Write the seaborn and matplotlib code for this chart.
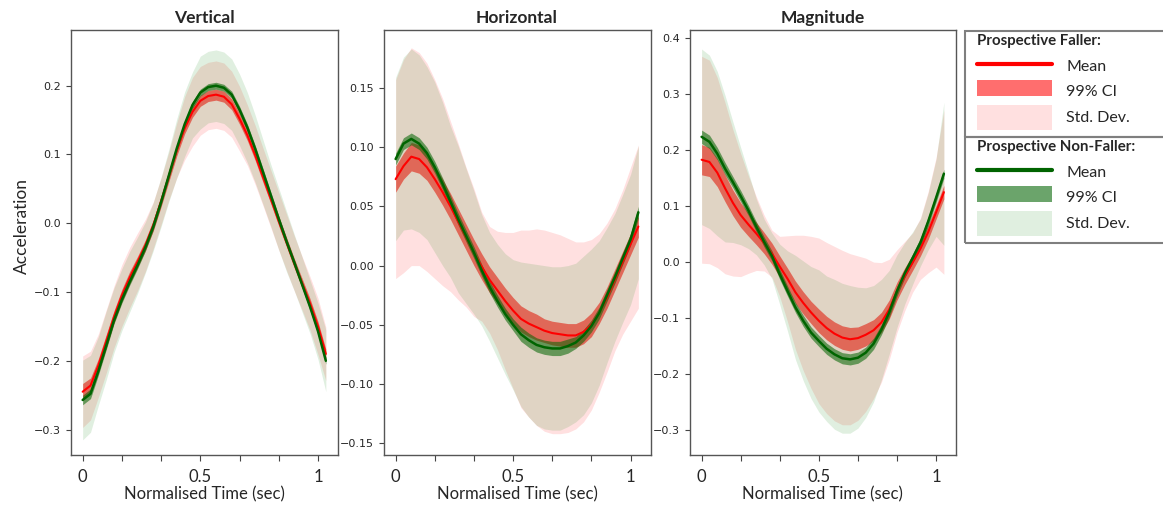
"""Mean / 99% CI / SD bands of trunk acceleration for prospective fallers vs non-fallers."""

import matplotlib

matplotlib.use("Agg")
import matplotlib.pyplot as plt  # noqa: E402
import numpy as np  # noqa: E402
import seaborn as sns  # noqa: E402
from matplotlib.legend_handler import HandlerPatch  # noqa: E402
from matplotlib.lines import Line2D  # noqa: E402
from matplotlib.patches import Patch, Rectangle  # noqa: E402

sns.set_theme(style="ticks")
plt.rcParams["font.family"] = ["DejaVu Sans"]

# 32 samples over one normalised stride, sample step = 1/30
SAMPLE_STEP = 30

# ---- Vertical ----
vert_faller_mean = [-0.245, -0.236, -0.207, -0.172, -0.136, -0.105, -0.079, -0.056, -0.032, -0.003,
                    0.032, 0.069, 0.106, 0.138, 0.162, 0.178, 0.185, 0.187, 0.184, 0.173,
                    0.152, 0.128, 0.099, 0.067, 0.035, 0.003, -0.028, -0.059, -0.088, -0.117,
                    -0.150, -0.190]
vert_faller_ci = [0.012, 0.011, 0.010, 0.010, 0.009, 0.009, 0.009, 0.008, 0.008, 0.008,
                  0.008, 0.008, 0.008, 0.008, 0.008, 0.008, 0.008, 0.008, 0.008, 0.008,
                  0.008, 0.008, 0.008, 0.008, 0.007, 0.007, 0.007, 0.007, 0.007, 0.007,
                  0.007, 0.007]
vert_faller_sd = [0.052, 0.050, 0.046, 0.046, 0.045, 0.045, 0.044, 0.042, 0.038, 0.034,
                  0.034, 0.035, 0.040, 0.046, 0.050, 0.050, 0.049, 0.049, 0.049, 0.048,
                  0.047, 0.044, 0.043, 0.042, 0.042, 0.042, 0.041, 0.040, 0.039, 0.039,
                  0.041, 0.039]
vert_nonfaller_mean = [-0.257, -0.248, -0.215, -0.178, -0.141, -0.111, -0.085, -0.061, -0.035, -0.005,
                       0.031, 0.070, 0.109, 0.144, 0.172, 0.190, 0.198, 0.200, 0.197, 0.187,
                       0.165, 0.139, 0.108, 0.074, 0.040, 0.006, -0.027, -0.058, -0.090, -0.122,
                       -0.157, -0.200]
vert_nonfaller_ci = [0.007, 0.007, 0.006, 0.006, 0.005, 0.005, 0.005, 0.005, 0.005, 0.005,
                     0.005, 0.005, 0.005, 0.005, 0.005, 0.005, 0.005, 0.005, 0.005, 0.005,
                     0.005, 0.005, 0.005, 0.005, 0.005, 0.005, 0.005, 0.005, 0.005, 0.005,
                     0.005, 0.005]
vert_nonfaller_sd = [0.058, 0.056, 0.050, 0.050, 0.047, 0.045, 0.044, 0.041, 0.037, 0.035,
                     0.036, 0.038, 0.043, 0.047, 0.048, 0.053, 0.052, 0.052, 0.052, 0.052,
                     0.052, 0.051, 0.049, 0.047, 0.045, 0.045, 0.044, 0.041, 0.040, 0.039,
                     0.041, 0.045]

# ---- Horizontal ----
horiz_faller_mean = [0.073, 0.084, 0.092, 0.090, 0.083, 0.073, 0.062, 0.050, 0.037, 0.024,
                     0.011, -0.001, -0.012, -0.021, -0.030, -0.038, -0.045, -0.049, -0.052, -0.055,
                     -0.057, -0.058, -0.059, -0.059, -0.056, -0.050, -0.040, -0.027, -0.012, 0.003,
                     0.018, 0.033]
horiz_faller_ci = [0.011, 0.011, 0.012, 0.012, 0.011, 0.011, 0.011, 0.011, 0.011, 0.011,
                   0.011, 0.011, 0.011, 0.011, 0.011, 0.011, 0.011, 0.011, 0.011, 0.010,
                   0.010, 0.010, 0.010, 0.010, 0.010, 0.010, 0.009, 0.009, 0.009, 0.009,
                   0.009, 0.009]
horiz_faller_sd = [0.084, 0.090, 0.092, 0.090, 0.088, 0.084, 0.079, 0.072, 0.066, 0.059,
                   0.054, 0.046, 0.045, 0.050, 0.058, 0.066, 0.075, 0.079, 0.083, 0.085,
                   0.085, 0.084, 0.082, 0.079, 0.076, 0.072, 0.067, 0.063, 0.060, 0.061,
                   0.065, 0.069]
horiz_nonfaller_mean = [0.090, 0.103, 0.107, 0.103, 0.095, 0.083, 0.069, 0.054, 0.039, 0.025,
                        0.011, -0.004, -0.018, -0.030, -0.041, -0.050, -0.058, -0.063, -0.067, -0.069,
                        -0.070, -0.070, -0.068, -0.065, -0.059, -0.051, -0.040, -0.025, -0.010, 0.006,
                        0.022, 0.045]
horiz_nonfaller_ci = [0.005, 0.005, 0.005, 0.005, 0.005, 0.005, 0.005, 0.005, 0.005, 0.005,
                      0.005, 0.005, 0.005, 0.005, 0.005, 0.005, 0.006, 0.006, 0.006, 0.006,
                      0.006, 0.006, 0.006, 0.005, 0.005, 0.005, 0.005, 0.005, 0.005, 0.005,
                      0.005, 0.005]
horiz_nonfaller_sd = [0.069, 0.073, 0.076, 0.075, 0.073, 0.072, 0.069, 0.064, 0.062, 0.057,
                      0.052, 0.047, 0.046, 0.048, 0.051, 0.055, 0.061, 0.065, 0.068, 0.069,
                      0.069, 0.069, 0.068, 0.067, 0.067, 0.065, 0.061, 0.057, 0.054, 0.054,
                      0.055, 0.056]

# ---- Magnitude ----
mag_faller_mean = [0.183, 0.179, 0.160, 0.132, 0.106, 0.084, 0.067, 0.051, 0.034, 0.015,
                   -0.008, -0.030, -0.054, -0.073, -0.090, -0.105, -0.118, -0.128, -0.135, -0.138,
                   -0.136, -0.130, -0.122, -0.108, -0.085, -0.052, -0.025, -0.001, 0.024, 0.054,
                   0.089, 0.125]
mag_faller_ci = [0.027, 0.026, 0.025, 0.024, 0.023, 0.022, 0.021, 0.020, 0.019, 0.019,
                 0.019, 0.019, 0.020, 0.020, 0.020, 0.021, 0.021, 0.021, 0.021, 0.021,
                 0.020, 0.020, 0.019, 0.018, 0.017, 0.016, 0.015, 0.014, 0.013, 0.013,
                 0.012, 0.012]
mag_faller_sd = [0.185, 0.182, 0.170, 0.153, 0.131, 0.110, 0.087, 0.066, 0.050, 0.042,
                 0.054, 0.077, 0.102, 0.121, 0.136, 0.148, 0.153, 0.156, 0.156, 0.153,
                 0.147, 0.137, 0.122, 0.107, 0.090, 0.074, 0.062, 0.053, 0.055, 0.073,
                 0.098, 0.147]
mag_nonfaller_mean = [0.224, 0.215, 0.194, 0.167, 0.143, 0.118, 0.092, 0.063, 0.036, 0.011,
                      -0.022, -0.052, -0.081, -0.105, -0.126, -0.141, -0.155, -0.165, -0.172, -0.174,
                      -0.171, -0.162, -0.146, -0.121, -0.090, -0.052, -0.020, 0.007, 0.035, 0.073,
                      0.115, 0.158]
mag_nonfaller_ci = [0.012, 0.012, 0.011, 0.011, 0.010, 0.010, 0.009, 0.009, 0.009, 0.009,
                    0.009, 0.009, 0.009, 0.010, 0.010, 0.010, 0.010, 0.010, 0.010, 0.010,
                    0.010, 0.010, 0.010, 0.009, 0.009, 0.009, 0.008, 0.008, 0.008, 0.008,
                    0.008, 0.008]
mag_nonfaller_sd = [0.157, 0.155, 0.147, 0.131, 0.108, 0.087, 0.068, 0.050, 0.041, 0.041,
                    0.054, 0.072, 0.093, 0.107, 0.118, 0.127, 0.130, 0.134, 0.134, 0.132,
                    0.126, 0.116, 0.104, 0.090, 0.075, 0.065, 0.055, 0.047, 0.042, 0.051,
                    0.069, 0.128]

panel_titles = ["Vertical", "Horizontal", "Magnitude"]
panel_ylims = [(-0.337, 0.281), (-0.160, 0.199), (-0.345, 0.415)]
xtick_labels = ["0", "", "", "0.5", "", "", "1"]

RED = "#ff0000"
GREEN = "#006400"
GREEN_SD = "#008000"
LABEL_FONT = "Lato"

panels = [
    (vert_faller_mean, vert_faller_ci, vert_faller_sd,
     vert_nonfaller_mean, vert_nonfaller_ci, vert_nonfaller_sd),
    (horiz_faller_mean, horiz_faller_ci, horiz_faller_sd,
     horiz_nonfaller_mean, horiz_nonfaller_ci, horiz_nonfaller_sd),
    (mag_faller_mean, mag_faller_ci, mag_faller_sd,
     mag_nonfaller_mean, mag_nonfaller_ci, mag_nonfaller_sd),
]


def draw_group(ax, mean, ci, sd, line_color, sd_color, ci_alpha, lw):
    mean, ci, sd = np.asarray(mean), np.asarray(ci), np.asarray(sd)
    t = np.arange(len(mean)) / SAMPLE_STEP
    ax.fill_between(t, mean - sd, mean + sd, color=sd_color, alpha=0.12, lw=0)
    ax.fill_between(t, mean - ci, mean + ci, color=line_color, alpha=ci_alpha, lw=0)
    sns.lineplot(x=t, y=mean, color=line_color, lw=lw, ax=ax)


def draw_panel(ax, title, ylim, f_mean, f_ci, f_sd, n_mean, n_ci, n_sd):
    draw_group(ax, f_mean, f_ci, f_sd, RED, RED, 0.55, 1.5)
    draw_group(ax, n_mean, n_ci, n_sd, GREEN, GREEN_SD, 0.55, 1.8)

    ax.set_ylim(*ylim)
    ax.set_title(title, fontsize=12.5, fontweight="bold", family=LABEL_FONT, pad=5)
    ax.set_xticks(np.arange(7) / 6)
    ax.set_xticklabels(xtick_labels, fontsize=12, family=LABEL_FONT)
    ax.set_xlabel("Normalised Time (sec)", fontsize=12, family=LABEL_FONT, labelpad=1)
    ax.tick_params(axis="y", labelsize=8, length=3.5, width=0.8, color="#444444")
    ax.tick_params(axis="x", length=4, width=0.8, color="#444444", pad=6)
    for spine in ax.spines.values():
        spine.set_visible(True)
        spine.set_color("#555555")
        spine.set_linewidth(1.0)


fig = plt.figure(figsize=(11.63, 5.07), dpi=100)
W, H = 1163, 507
axes_px = [(70.5, 338), (383.5, 650.5), (689.5, 956)]
axes = []
for (x0, x1) in axes_px:
    axes.append(fig.add_axes([x0 / W, 1 - 455 / H, (x1 - x0) / W, 425 / H]))

for ax, title, ylim, data in zip(axes, panel_titles, panel_ylims, panels):
    draw_panel(ax, title, ylim, *data)

axes[0].set_ylabel("Acceleration", fontsize=12.5, family=LABEL_FONT)
axes[0].yaxis.set_label_coords(-0.151, 0.539)


# ---- legend: two stacked boxes ----
def ci_box(legend, orig_handle, xdescent, ydescent, width, height, fontsize):
    return Rectangle((-xdescent, -ydescent + 0.2 * height), width, height)


def sd_box(legend, orig_handle, xdescent, ydescent, width, height, fontsize):
    return Rectangle((-xdescent, -ydescent - 0.35 * height), width, 1.6 * height)


def add_group_legend(title, line_color, ci_rgba, sd_rgba, top_px):
    handles = [Line2D([], [], color=line_color, lw=3),
               Patch(facecolor=ci_rgba, lw=0),
               Patch(facecolor=sd_rgba, lw=0)]
    labels = ["Mean", "99% CI", "Std. Dev."]
    leg = fig.legend(handles, labels, loc="upper left",
                     bbox_to_anchor=(977 / W, 1 - top_px / H),
                     frameon=False, title=title, alignment="left",
                     title_fontproperties={"family": LABEL_FONT, "weight": "bold", "size": 10.8},
                     prop={"family": LABEL_FONT, "size": 11.5},
                     handlelength=4.7, handleheight=1.1, handletextpad=0.9,
                     labelspacing=0.6, borderpad=0, borderaxespad=0,
                     handler_map={handles[1]: HandlerPatch(patch_func=ci_box),
                                  handles[2]: HandlerPatch(patch_func=sd_box)})
    return leg


add_group_legend("Prospective Faller:", RED, (1, 0, 0, 0.57), (1, 0, 0, 0.12), 34)
add_group_legend("Prospective Non-Faller:", GREEN, (0, 0.39, 0, 0.58),
                 (0, 0.5, 0, 0.12), 140)

for y0, y1 in [(31, 137), (137, 243)]:
    fig.add_artist(Rectangle((965 / W, 1 - y1 / H), 220 / W, (y1 - y0) / H,
                             transform=fig.transFigure, fill=False,
                             edgecolor="#7f7f7f", lw=1.5))

fig.savefig("out.png", dpi=100)
plt.close(fig)
